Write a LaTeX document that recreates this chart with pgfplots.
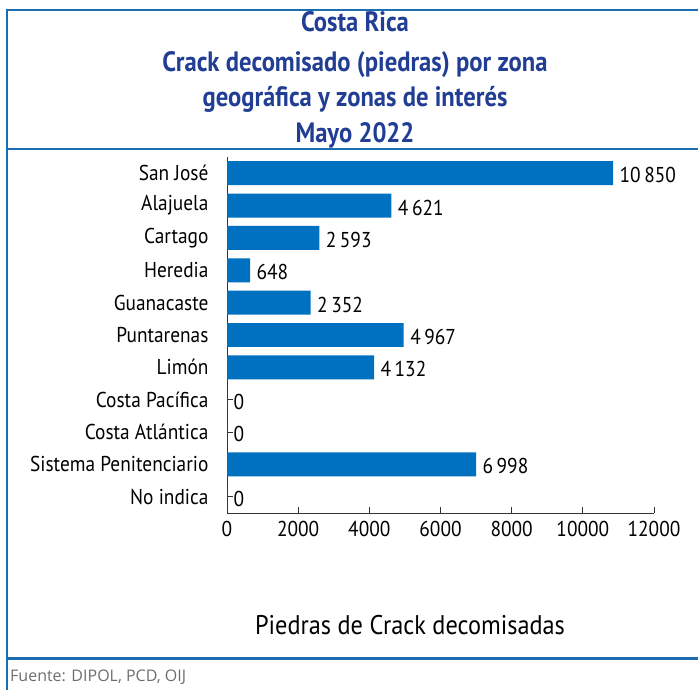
\documentclass[border=0pt]{standalone}
\usepackage{fontspec}
\usepackage{pgfplots}
\usepackage{pgfplotstable}
\pgfplotsset{compat=1.18}
\setmainfont{PT Sans}[FakeStretch=0.9]
\newfontfamily\titlefont{PT Sans}[FakeStretch=0.88]
\newfontfamily\footfont{Open Sans}
\definecolor{barblue}{RGB}{0,112,192}
\definecolor{titleblue}{RGB}{33,62,148}
\definecolor{frameblue}{RGB}{28,108,178}
\definecolor{footgray}{RGB}{110,110,110}

% y: 10 = San José (top) ... 0 = No indica (bottom)
\pgfplotstableread{
y val lab
10 10850 10\,850
9 4621 4\,621
8 2593 2\,593
7 648 648
6 2352 2\,352
5 4967 4\,967
4 4132 4\,132
3 0 0
2 0 0
1 6998 6\,998
0 0 0
}\crackdata

\begin{document}
\begin{tikzpicture}[x=1pt,y=1pt]
\useasboundingbox (0,0) rectangle (698,-690);
% frame
\draw[frameblue, line width=2.2pt] (7,-10) -- (698,-10);
\draw[frameblue, line width=2.2pt] (7,-149) -- (698,-149);
\draw[frameblue, line width=3pt] (7,-658) -- (698,-658);
\draw[frameblue, line width=1.8pt] (7,-9) -- (7,-690);
% title
\tikzset{ttl/.style={font=\titlefont\bfseries\fontsize{28}{32}\selectfont, text=titleblue}}
\node[ttl] at (355,-22) {Costa Rica};
\node[ttl] at (355,-65) {Crack decomisado (piedras) por zona};
\node[ttl] at (355,-99) {geográfica y zonas de interés};
\node[ttl] at (355,-135) {Mayo 2022};

\begin{axis}[
  at={(227pt,-513pt)}, anchor=south west,
  scale only axis,
  width=427pt, height=356pt,
  xbar,
  bar width=0.74,
  xmin=0, xmax=12000,
  ymin=-0.5, ymax=10.5,
  axis x line*=bottom,
  axis y line*=left,
  axis line style={black!80, line width=0.8pt},
  xtick={0,2000,...,12000},
  scaled x ticks=false,
  ytick={0,...,10},
  yticklabels={No indica,Sistema Penitenciario,Costa Atlántica,Costa Pacífica,Limón,Puntarenas,Guanacaste,Heredia,Cartago,Alajuela,San José},
  tick align=inside,
  major tick length=6pt,
  tick style={black!80, line width=0.8pt},
  /pgf/number format/assume math mode=true,
  /pgf/number format/set thousands separator={},
  tick label style={font=\fontsize{21.5}{24}\selectfont},
  yticklabel style={xshift=-15pt},
  xticklabel style={yshift=-5pt},
  point meta=explicit symbolic,
  nodes near coords,
  every node near coord/.append style={font=\fontsize{21.5}{24}\selectfont, anchor=west, xshift=3pt, yshift=-2pt, text=black},
  clip=false,
]
\addplot[fill=barblue, draw=none] table[x=val, y=y, meta=lab] {\crackdata};
\end{axis}

\node[font=\fontsize{27}{32}\selectfont] at (410,-625) {Piedras de Crack decomisadas};
\node[font=\footfont\fontsize{16}{19}\selectfont, text=footgray, anchor=west, inner sep=0pt] at (10,-677) {Fuente: DIPOL, PCD, OIJ};
\end{tikzpicture}
\end{document}
